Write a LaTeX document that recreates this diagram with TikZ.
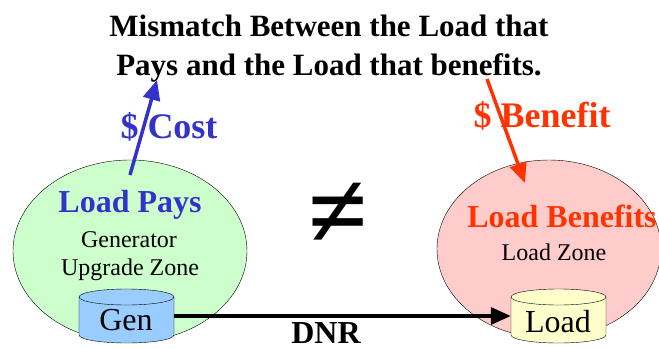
\documentclass[tikz,border=0pt]{standalone}
\usepackage{fontspec}
\setmainfont{Liberation Serif}
\usetikzlibrary{shapes.geometric,arrows.meta}

\definecolor{zonegreen}{RGB}{204,255,204}
\definecolor{zonepink}{RGB}{255,204,204}
\definecolor{genblue}{RGB}{153,204,255}
\definecolor{loadyellow}{RGB}{255,255,204}
\definecolor{costblue}{RGB}{51,51,204}
\definecolor{benefitred}{RGB}{255,51,0}

\newcommand{\tank}[2]{% #1 = left x, #2 = fill
	\draw[thin, fill=#2] (#1,297) -- (#1,335) arc[start angle=180, end angle=360, x radius=47.5pt, y radius=8pt]
		-- ++(0,-38) arc[start angle=0, end angle=180, x radius=47.5pt, y radius=8pt] -- cycle;
	\draw[thin] (#1,297) arc[start angle=180, end angle=360, x radius=47.5pt, y radius=8pt];}

\begin{document}
\begin{tikzpicture}[x=1pt, y=-1pt,
	every node/.style={anchor=base},
	zone/.style={ellipse, draw=black, thin, anchor=center},
	big/.style={font=\fontsize{32}{32}\bfseries\selectfont},
	huge/.style={font=\fontsize{36}{36}\bfseries\selectfont},
	small/.style={font=\fontsize{24}{24}\selectfont},
	flow/.style={line width=3.5pt, -{Triangle[length=20pt, width=17pt]}}]
			\useasboundingbox (0,0) rectangle (659,348);
			\node[zone, fill=zonegreen, minimum width=234pt, minimum height=182pt] (pays) at (130,251){};
			\node[zone, fill=zonepink, minimum width=224pt, minimum height=178pt] (bene) at (549,249){};
			\tank{79}{genblue}
			\tank{511}{loadyellow}
			\node[anchor=center, minimum width=95pt, minimum height=38pt, inner sep=0pt] (gen) at (126.5,316){};
			\node[anchor=center, minimum width=95pt, minimum height=38pt, inner sep=0pt] (load) at (558.5,316){};
			\node[big, font=\fontsize{32}{32}\selectfont] (gentext) at (126,330){Gen};
			\node[big, font=\fontsize{32}{32}\selectfont] (loadtext) at (558,332){Load};
			\node[big, font=\fontsize{31}{31}\bfseries\selectfont] (title1) at (329,36){Mismatch Between the Load that};
			\node[big, font=\fontsize{31}{31}\bfseries\selectfont] (title2) at (329,75){Pays and the Load that benefits.};
			\node[huge, costblue] (cost) at (169,138){\$ Cost};
			\node[huge, benefitred] (benefit) at (542,127){\$ Benefit};
			\node[big, costblue] (paystext) at (130,212){Load Pays};
			\node[small] (generator) at (129,247){Generator};
			\node[small] (upgrade) at (130,275){Upgrade Zone};
			\node[big, benefitred] (benetext) at (562,227){Load Benefits};
			\node[small] (loadzone) at (554,260){Load Zone};
			\node[font=\fontsize{108}{108}\bfseries\selectfont, anchor=center] (neq) at (338,215){≠};
			\node[big, inner sep=0pt] (dnr) at (326,343){DNR};
			\coordinate (costtail) at (130,175);
			\coordinate (costtip) at (157,80);
			\coordinate (benetail) at (487,79);
			\coordinate (benetip) at (525,183);

			\draw[flow, costblue] (costtail) -- (costtip);
			\draw[flow, benefitred] (benetail) -- (benetip);
			\draw[flow, black] (gen.east) -- (load.west);
			\end{tikzpicture}
\end{document}
